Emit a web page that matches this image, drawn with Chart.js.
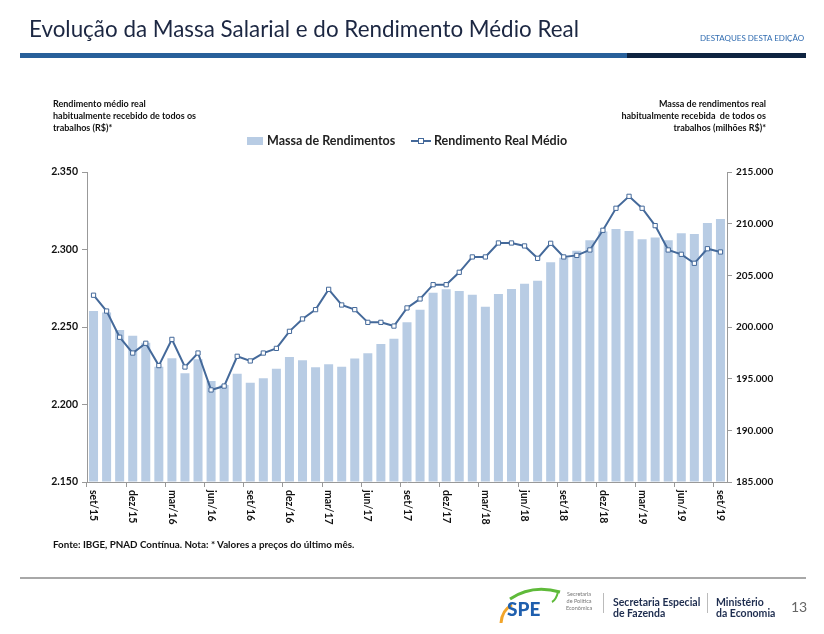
<!DOCTYPE html>
<html>
<head>
<meta charset="utf-8">
<script src="https://cdn.jsdelivr.net/npm/chart.js@4.4.1/dist/chart.umd.min.js"></script>
<style>
  html,body{margin:0;padding:0;background:#fff;}
  body{width:824px;height:634px;position:relative;overflow:hidden;font-family:Lato,"Open Sans",sans-serif;}
  #c{position:absolute;left:0;top:0;}
  .abs{position:absolute;white-space:nowrap;}
</style>
</head>
<body>
<canvas id="c" width="824" height="634"></canvas>

<div class="abs" style="left:29px;top:15px;font-size:22.4px;color:#1c2742;">Evolução da Massa Salarial e do Rendimento Médio Real</div>
<div class="abs" style="left:700px;top:33px;font-size:8px;color:#2f6bb0;">DESTAQUES DESTA EDIÇÃO</div>
<div class="abs" style="left:20px;top:53px;width:607px;height:5px;background:#28609a;"></div>
<div class="abs" style="left:627px;top:53px;width:179px;height:5px;background:#0e2340;"></div>

<div class="abs" style="left:53px;top:98px;font-size:9px;font-weight:bold;line-height:12px;color:#111;">Rendimento médio real<br>habitualmente recebido de todos os<br>trabalhos (R$)*</div>
<div class="abs" style="right:58px;top:98px;font-size:9px;font-weight:bold;line-height:12px;color:#111;text-align:right;">Massa de rendimentos real<br>habitualmente recebida&nbsp; de todos os<br>trabalhos (milhões R$)*</div>

<div class="abs" style="left:247px;top:137px;width:16px;height:8px;background:#b8cce4;"></div>
<div class="abs" style="left:267px;top:133px;font-size:12.5px;font-weight:bold;color:#222;">Massa de Rendimentos</div>
<div class="abs" style="left:411px;top:140px;width:20px;height:2px;background:#44699a;"></div>
<div class="abs" style="left:418px;top:138px;width:4px;height:4px;background:#fff;border:1px solid #44699a;"></div>
<div class="abs" style="left:434px;top:133px;font-size:12.5px;font-weight:bold;color:#222;">Rendimento Real Médio</div>

<div class="abs" style="left:53px;top:538px;font-size:9.8px;font-weight:bold;color:#111;">Fonte: IBGE, PNAD Contínua. Nota: * Valores a preços do último mês.</div>

<div class="abs" style="left:20px;top:577px;width:786px;height:2px;background:#a8a8a8;"></div>

<svg class="abs" style="left:498px;top:586px;" width="66" height="40" viewBox="0 0 66 40">
  <path d="M12 13 Q34 -2 62 6" stroke="#5fba3a" stroke-width="3" fill="none"/>
  <path d="M60 6 Q58 14 54 16" stroke="#5fba3a" stroke-width="2" fill="none"/>
  <path d="M3 37 Q4 24 14 19" stroke="#f2a52b" stroke-width="3" fill="none"/>
  <text x="9" y="30" font-family="Lato" font-weight="900" font-size="19" fill="#1f5fae">SPE</text>
</svg>
<div class="abs" style="left:566px;top:591px;font-size:5.5px;line-height:7px;color:#777;text-align:center;">Secretaria<br>de Política<br>Econômica</div>
<div class="abs" style="left:603px;top:593px;width:1px;height:20px;background:#bbb;"></div>
<div class="abs" style="left:613px;top:597px;font-size:10.5px;line-height:11px;font-weight:bold;color:#1e2d4f;">Secretaria Especial<br>de Fazenda</div>
<div class="abs" style="left:707px;top:593px;width:1px;height:20px;background:#bbb;"></div>
<div class="abs" style="left:716px;top:597px;font-size:10.5px;line-height:11px;font-weight:bold;color:#1e2d4f;">Ministério<br>da Economia</div>
<div class="abs" style="left:791px;top:598px;font-size:14px;color:#666;">13</div>

<script>
const months = ['set','out','nov','dez','jan','fev','mar','abr','mai','jun','jul','ago'];
const categories = [];
for (let i = 0; i < 49; i++) {
  const y = 15 + Math.floor((8 + i) / 12);
  categories.push(months[i % 12] + '/' + y);
}
const massaRendimentos = [
  201550, 201400, 199710, 199160, 198480, 196160, 196970, 195520, 196870, 194780,
  194390, 195480, 194610, 195040, 195970, 197100, 196780, 196100, 196390, 196160,
  196940, 197450, 198360, 198870, 200460, 201680, 203320, 203650, 203480, 203130,
  201970, 203190, 203680, 204190, 204480, 206260, 206710, 207390, 208390, 209230,
  209480, 209290, 208480, 208650, 208390, 209070, 209000, 210070, 210450
];
const rendimentoMedio = [
  2270.5, 2260.3, 2243.4, 2233.2, 2239.5, 2225.1, 2242.0, 2224.2, 2233.2, 2209.4,
  2211.9, 2231.1, 2228.1, 2233.2, 2236.2, 2247.2, 2255.2, 2261.2, 2274.3, 2264.2,
  2261.2, 2253.0, 2253.0, 2250.6, 2262.3, 2268.1, 2277.3, 2277.3, 2285.3, 2295.2,
  2295.2, 2304.2, 2304.2, 2302.3, 2294.3, 2304.0, 2295.2, 2296.2, 2299.7, 2312.4,
  2326.6, 2334.3, 2326.6, 2315.4, 2299.7, 2296.9, 2291.1, 2300.5, 2298.4
];
const leftTicks = {min: 2150, max: 2350, step: 50};
const rightTicks = {min: 185000, max: 215000, step: 5000};

function fmt(v) {
  return Math.round(v).toString().replace(/\B(?=(\d{3})+(?!\d))/g, '.');
}

const xLabelsPlugin = {
  id: 'xLabels',
  afterDraw(chart) {
    const ctx = chart.ctx;
    const xs = chart.scales.x;
    ctx.save();
    ctx.font = 'bold 10.5px Lato';
    ctx.fillStyle = '#111';
    ctx.textAlign = 'left';
    ctx.textBaseline = 'middle';
    for (let i = 0; i < categories.length; i += 3) {
      const x = xs.getPixelForValue(i);
      ctx.save();
      ctx.translate(x, chart.chartArea.bottom + 8);
      ctx.rotate(Math.PI / 2);
      ctx.fillText(categories[i], 0, 0);
      ctx.restore();
    }
    ctx.restore();
  }
};

new Chart(document.getElementById('c'), {
  data: {
    labels: categories,
    datasets: [
      {
        type: 'line',
        label: 'Rendimento Real Médio',
        data: rendimentoMedio,
        yAxisID: 'y',
        borderColor: '#44699a',
        borderWidth: 2,
        tension: 0,
        pointStyle: 'rect',
        pointRadius: 3,
        pointBackgroundColor: '#ffffff',
        pointBorderColor: '#44699a',
        pointBorderWidth: 1,
        order: 1
      },
      {
        type: 'bar',
        label: 'Massa de Rendimentos',
        data: massaRendimentos,
        yAxisID: 'y1',
        backgroundColor: '#b8cce4',
        barPercentage: 0.69,
        categoryPercentage: 1,
        base: rightTicks.min,
        order: 2
      }
    ]
  },
  options: {
    responsive: false,
    animation: false,
    layout: {padding: {top: 172, left: 0, right: 0, bottom: 0}},
    plugins: {legend: {display: false}, tooltip: {enabled: false}},
    scales: {
      x: {
        type: 'category',
        offset: true,
        ticks: {display: false},
        grid: {
          offset: true,
          drawOnChartArea: false,
          tickLength: 5,
          tickColor: (c) => (c.index % 3 === 0 ? '#999' : 'rgba(0,0,0,0)')
        },
        border: {color: '#999'},
        afterFit(s) { s.height = 152; }
      },
      y: {
        position: 'left',
        min: leftTicks.min,
        max: leftTicks.max,
        ticks: {stepSize: leftTicks.step, callback: (v) => fmt(v), font: {family: 'Lato', weight: 'bold', size: 10.5}, color: '#111', padding: 4},
        grid: {drawOnChartArea: false, tickLength: 5, tickColor: '#999'},
        border: {color: '#999'},
        afterFit(s) { s.width = 87; }
      },
      y1: {
        position: 'right',
        min: rightTicks.min,
        max: rightTicks.max,
        ticks: {stepSize: rightTicks.step, callback: (v) => fmt(v), font: {family: 'Lato', weight: 'bold', size: 10}, color: '#111', padding: 4},
        grid: {drawOnChartArea: false, tickLength: 5, tickColor: '#999'},
        border: {color: '#999'},
        afterFit(s) { s.width = 97; }
      }
    }
  },
  plugins: [xLabelsPlugin]
});
</script>
</body>
</html>
